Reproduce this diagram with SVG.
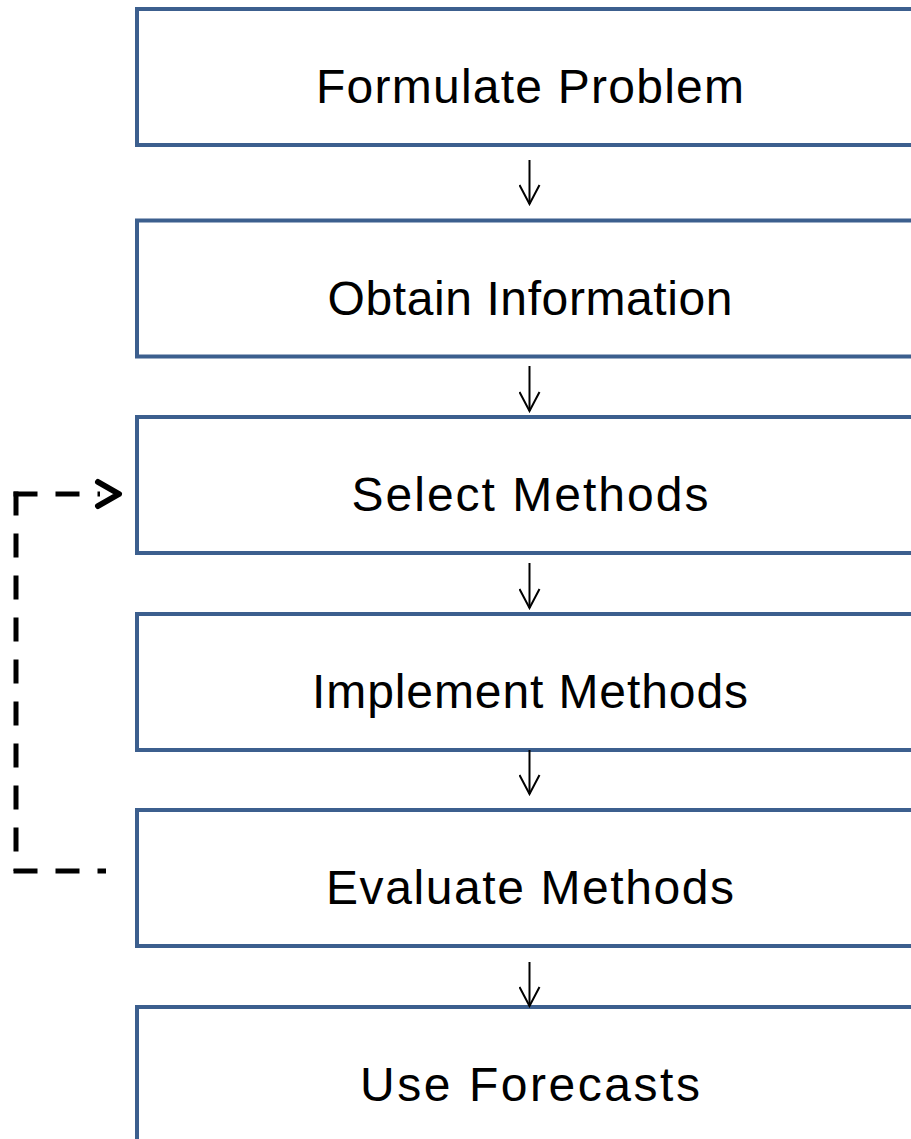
<svg xmlns="http://www.w3.org/2000/svg" width="911" height="1139" viewBox="0 0 911 1139">
  <style>
    .box { fill: #ffffff; stroke: #3c5f8e; stroke-width: 4; }
    .label { font-family: "Liberation Sans", Arial, sans-serif; font-size: 48px; fill: #000000; text-anchor: middle; }
    .flow { stroke: #000000; stroke-width: 2; fill: none; }
    .loop { stroke: #000000; stroke-width: 5; fill: none; stroke-dasharray: 24 18; }
    .loophead { stroke: #000000; stroke-width: 6; fill: none; stroke-linecap: round; stroke-linejoin: round; }
  </style>
  <defs>
    <!-- open V head, drawn pointing along +x so orient="auto" follows the line -->
    <marker id="open-arrow" viewBox="0 0 22 22" refX="20" refY="11" markerWidth="22" markerHeight="22" markerUnits="userSpaceOnUse" orient="auto">
      <path d="M1,1 L20,11 L1,21" fill="none" stroke="#000000" stroke-width="2"/>
    </marker>
  </defs>
  <rect width="911" height="1139" fill="#ffffff"/>

  <g id="formulate-problem">
    <rect class="box" x="137" y="9" width="800" height="136"/>
    <text class="label" x="530" y="103" textLength="428" lengthAdjust="spacing">Formulate Problem</text>
  </g>
  <g id="obtain-information">
    <rect class="box" x="137" y="220.5" width="800" height="136"/>
    <text class="label" x="530" y="315" textLength="405" lengthAdjust="spacing">Obtain Information</text>
  </g>
  <g id="select-methods">
    <rect class="box" x="137" y="417" width="800" height="136"/>
    <text class="label" x="530" y="511" textLength="357" lengthAdjust="spacing">Select Methods</text>
  </g>
  <g id="implement-methods">
    <rect class="box" x="137" y="614" width="800" height="136"/>
    <text class="label" x="530" y="708" textLength="436" lengthAdjust="spacing">Implement Methods</text>
  </g>
  <g id="evaluate-methods">
    <rect class="box" x="137" y="810" width="800" height="136"/>
    <text class="label" x="530" y="904" textLength="408" lengthAdjust="spacing">Evaluate Methods</text>
  </g>
  <g id="use-forecasts">
    <rect class="box" x="137" y="1007" width="800" height="200"/>
    <text class="label" x="530" y="1101" textLength="340" lengthAdjust="spacing">Use Forecasts</text>
  </g>

  <g id="connectors">
    <line class="flow" x1="529.5" y1="160" x2="529.5" y2="204" marker-end="url(#open-arrow)"/>
    <line class="flow" x1="529.5" y1="366" x2="529.5" y2="411" marker-end="url(#open-arrow)"/>
    <line class="flow" x1="529.5" y1="563" x2="529.5" y2="608" marker-end="url(#open-arrow)"/>
    <line class="flow" x1="529.5" y1="750" x2="529.5" y2="794" marker-end="url(#open-arrow)"/>
    <line class="flow" x1="529.5" y1="962" x2="529.5" y2="1006" marker-end="url(#open-arrow)"/>

    <!-- feedback loop: Evaluate Methods back to Select Methods -->
    <g id="feedback-loop">
      <line class="loop" x1="13.5" y1="494" x2="100" y2="494"/>
      <line class="loop" x1="16" y1="491.5" x2="16" y2="871"/>
      <line class="loop" x1="13.5" y1="871" x2="106" y2="871"/>
      <polyline class="loophead" points="98,482 119,494 98,506"/>
    </g>
  </g>
</svg>
